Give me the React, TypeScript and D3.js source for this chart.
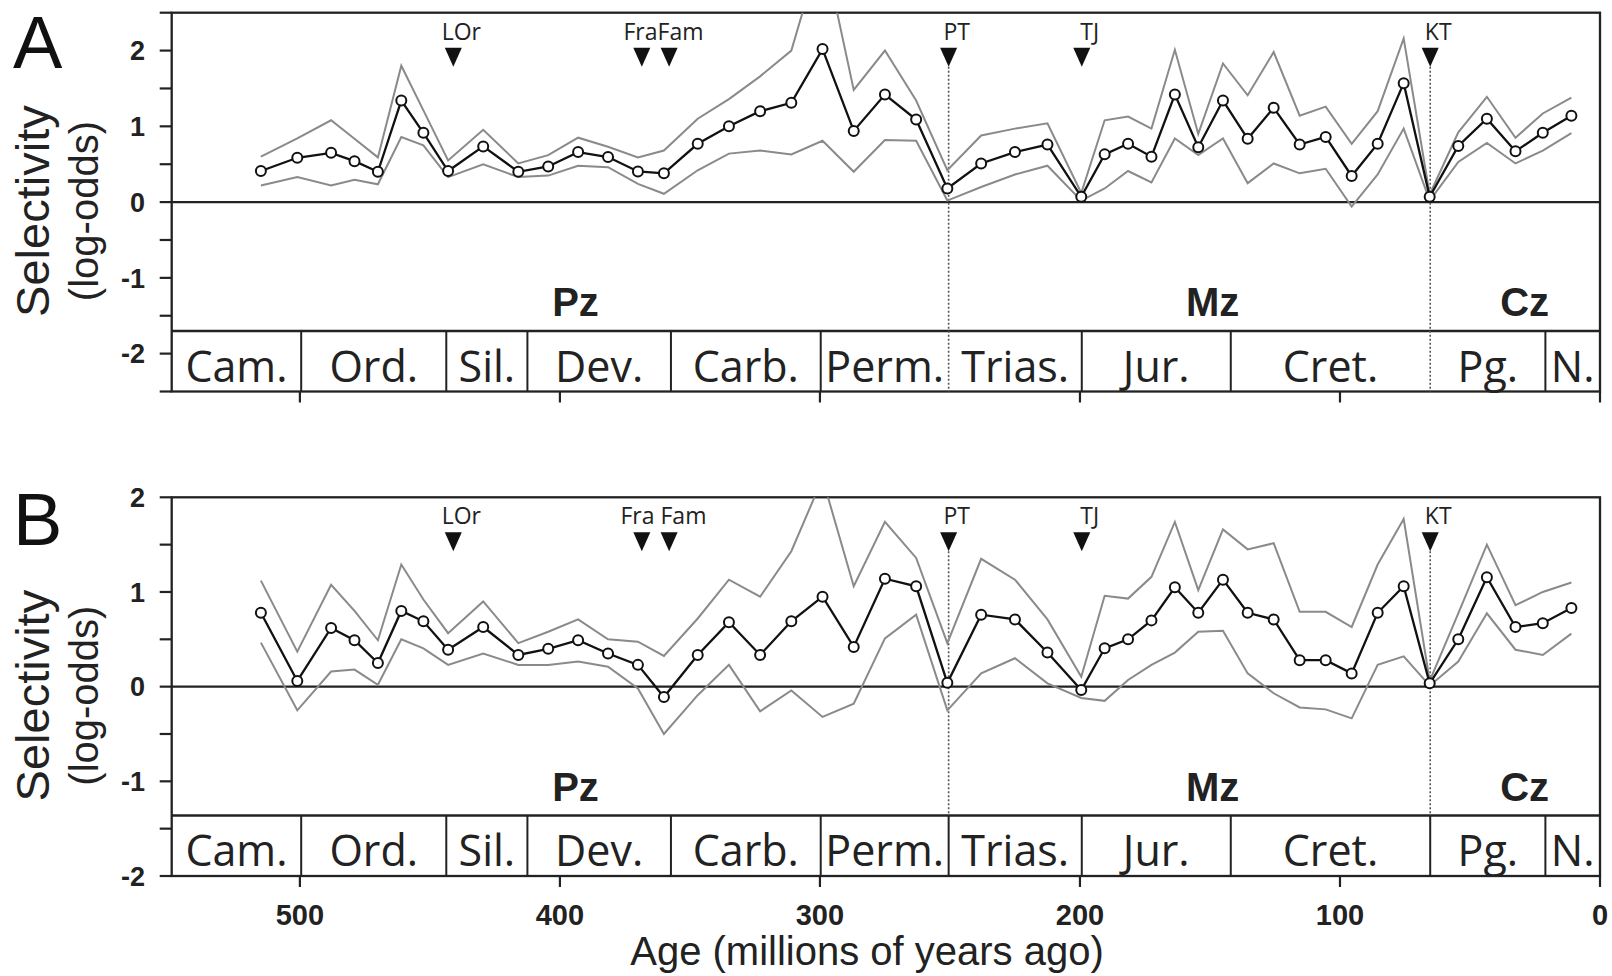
import React from 'react';
import * as d3 from 'd3';

const W = 1612;
const H = 976;

// ---------- data ----------
const ages = [515, 501, 488, 479, 470, 461, 452.5, 443, 429.5, 416, 404.5, 393, 381.5, 370, 360, 347, 335, 323, 311, 299, 287, 275, 263, 251, 238, 225, 212.5, 199.5, 190.5, 181.5, 172.5, 163.5, 154.5, 145, 135.5, 125.5, 115.5, 105.5, 95.5, 85.5, 75.5, 65.5, 54.5, 43.5, 32.5, 22, 11];

const meanA = [0.41, 0.585, 0.65, 0.54, 0.40, 1.34, 0.915, 0.41, 0.735, 0.40, 0.47, 0.66, 0.595, 0.405, 0.38, 0.77, 1.0, 1.20, 1.31, 2.02, 0.94, 1.42, 1.09, 0.18, 0.51, 0.66, 0.76, 0.07, 0.63, 0.77, 0.60, 1.42, 0.725, 1.34, 0.835, 1.245, 0.76, 0.86, 0.345, 0.77, 1.57, 0.07, 0.74, 1.10, 0.67, 0.915, 1.14];
const upperA = [0.60, 0.84, 1.08, 0.835, 0.59, 1.80, 1.21, 0.55, 0.955, 0.51, 0.62, 0.85, 0.73, 0.59, 0.68, 1.10, 1.36, 1.66, 2.0, 3.4, 1.48, 2.0, 1.34, 0.42, 0.88, 0.97, 1.04, 0.12, 1.08, 1.13, 0.97, 2.01, 0.90, 1.83, 1.41, 1.98, 1.14, 1.26, 0.77, 1.20, 2.16, 0.10, 0.92, 1.39, 0.85, 1.17, 1.38];
const lowerA = [0.22, 0.33, 0.22, 0.295, 0.235, 0.86, 0.75, 0.33, 0.50, 0.33, 0.35, 0.48, 0.46, 0.24, 0.11, 0.42, 0.64, 0.68, 0.63, 0.81, 0.40, 0.82, 0.81, 0.02, 0.20, 0.365, 0.48, 0.02, 0.18, 0.41, 0.26, 0.84, 0.62, 0.84, 0.25, 0.51, 0.38, 0.44, -0.06, 0.365, 0.97, 0.02, 0.53, 0.78, 0.51, 0.68, 0.91];

const meanB = [0.78, 0.06, 0.62, 0.49, 0.25, 0.80, 0.69, 0.39, 0.63, 0.335, 0.40, 0.49, 0.35, 0.23, -0.11, 0.335, 0.68, 0.335, 0.69, 0.95, 0.42, 1.14, 1.06, 0.04, 0.76, 0.71, 0.36, -0.035, 0.405, 0.50, 0.70, 1.05, 0.78, 1.13, 0.78, 0.71, 0.28, 0.28, 0.14, 0.78, 1.06, 0.035, 0.50, 1.155, 0.63, 0.67, 0.83];
const upperB = [1.12, 0.37, 1.075, 0.80, 0.49, 1.29, 0.92, 0.565, 0.90, 0.46, 0.58, 0.71, 0.50, 0.475, 0.325, 0.72, 1.13, 0.95, 1.43, 2.2, 1.06, 1.74, 1.36, 0.46, 1.35, 1.13, 0.71, 0.105, 0.96, 0.93, 1.16, 1.74, 1.02, 1.66, 1.45, 1.515, 0.79, 0.79, 0.63, 1.29, 1.77, 0.06, 0.775, 1.50, 0.86, 1.00, 1.10];
const lowerB = [0.465, -0.25, 0.16, 0.18, 0.02, 0.50, 0.405, 0.23, 0.35, 0.23, 0.23, 0.265, 0.21, -0.02, -0.50, -0.09, 0.23, -0.26, -0.04, -0.32, -0.18, 0.51, 0.76, -0.25, 0.14, 0.30, 0.035, -0.12, -0.15, 0.07, 0.23, 0.36, 0.58, 0.59, 0.14, -0.07, -0.22, -0.24, -0.335, 0.23, 0.32, 0.01, 0.265, 0.775, 0.39, 0.335, 0.56];

const periodNames = ['Cam.', 'Ord.', 'Sil.', 'Dev.', 'Carb.', 'Perm.', 'Trias.', 'Jur.', 'Cret.', 'Pg.', 'N.'];
const periodBounds = [549.3, 499.5, 443.7, 412.5, 357.3, 299.7, 250.5, 199.3, 142, 65.3, 21, 0];

const eraNames = ['Pz', 'Mz', 'Cz'];
const eraCenters = [394, 149, 29];

const eventNamesA = ['LOr', 'FraFam', 'PT', 'TJ', 'KT'];
const eventNamesB = ['LOr', 'Fra Fam', 'PT', 'TJ', 'KT'];
const eventAges = [[441], [368.5, 358], [250.5], [199.3], [65.3]];
const dottedEventAges = [250.5, 65.3];

const xTicks = [500, 400, 300, 200, 100, 0];
const xDomain = [549.3, 0];

const yTitle = 'Selectivity';
const ySubTitle = '(log-odds)';
const xTitle = 'Age (millions of years ago)';

// ---------- layout ----------
const X0 = 171.7;
const X1 = 1600;
const BOX_H = 60.5;
const SANS = '"Liberation Sans", Arial, Helvetica, sans-serif';
const HUMAN = '"Open Sans", "Noto Sans", sans-serif';
const FRAME = '#222';
const GREY = '#8a8a8a';

const panels = [
  { letter: 'A', top: 12.7, bottom: 391.5, yDomain: [-2.5, 2.5], letterBase: 68, xLabels: false, dottedToBottom: true, mean: meanA, upper: upperA, lower: lowerA, events: eventNamesA },
  { letter: 'B', top: 497.3, bottom: 876, yDomain: [-2, 2], letterBase: 545, xLabels: true, dottedToBottom: false, mean: meanB, upper: upperB, lower: lowerB, events: eventNamesB },
];

const x = d3.scaleLinear().domain(xDomain).range([X0, X1]);

function Panel({ p, idx }: { p: any; idx: number }) {
  const y = d3.scaleLinear().domain(p.yDomain).range([p.bottom, p.top]);
  const line = d3.line<number>().x((_, i) => x(ages[i])).y((d) => y(d));
  const boxTop = p.bottom - BOX_H;
  const yTicks = d3.range(p.yDomain[0], p.yDomain[1] + 0.01, 0.5);
  const clipId = `clip${idx}`;
  const fmt = (d: number) => (d < 0 ? '-' + Math.abs(d) : String(d));
  const y0 = y(0);
  return (
    <g>
      <defs>
        <clipPath id={clipId}>
          <rect x={X0} y={p.top} width={X1 - X0} height={p.bottom - p.top} />
        </clipPath>
      </defs>
      {/* panel letter */}
      <text x={13} y={p.letterBase} fontFamily={SANS} fontSize={74} fill="#111">{p.letter}</text>
      {/* y titles */}
      <text transform={`translate(49,${y0 + 9}) rotate(-90)`} textAnchor="middle" fontFamily={SANS} fontSize={47} fill="#222">{yTitle}</text>
      <text transform={`translate(98,${y0 + 9}) rotate(-90)`} textAnchor="middle" fontFamily={SANS} fontSize={40} fill="#222">{ySubTitle}</text>

      {/* y ticks */}
      {yTicks.map((t) => (
        <line key={'yt' + t} x1={X0 - 12} x2={X0} y1={y(t)} y2={y(t)} stroke={FRAME} strokeWidth={2.2} />
      ))}
      {yTicks.filter((t) => Math.abs(t - Math.round(t)) < 1e-6).map((t) => (
        <text key={'yl' + t} x={145} y={y(t)} dy="0.36em" textAnchor="end" fontFamily={SANS} fontWeight="bold" fontSize={27} fill="#222">{fmt(t)}</text>
      ))}

      {/* x ticks */}
      {xTicks.map((t) => (
        <line key={'xt' + t} x1={x(t)} x2={x(t)} y1={p.bottom} y2={p.bottom + 11} stroke={FRAME} strokeWidth={2.2} />
      ))}
      {p.xLabels && xTicks.map((t) => (
        <text key={'xl' + t} x={x(t)} y={p.bottom + 49} textAnchor="middle" fontFamily={SANS} fontWeight="bold" fontSize={29} fill="#222">{t}</text>
      ))}

      {/* frame */}
      <rect x={X0} y={p.top} width={X1 - X0} height={p.bottom - p.top} fill="none" stroke={FRAME} strokeWidth={2.3} />
      <line x1={X0} x2={X1} y1={y0} y2={y0} stroke={FRAME} strokeWidth={2.3} />
      <line x1={X0} x2={X1} y1={boxTop} y2={boxTop} stroke={FRAME} strokeWidth={2.3} />

      {/* period boxes */}
      {periodBounds.slice(1, -1).map((b) => {
        if (p.dottedToBottom && dottedEventAges.some((a) => Math.abs(a - b) < 0.01)) return null;
        return <line key={'pb' + b} x1={x(b)} x2={x(b)} y1={boxTop} y2={p.bottom} stroke={FRAME} strokeWidth={2} />;
      })}
      {periodNames.map((n, i) => (
        <text key={'pn' + n} x={(x(periodBounds[i]) + x(periodBounds[i + 1])) / 2} y={p.bottom - 10} textAnchor="middle" fontFamily={HUMAN} fontSize={43} fill="#222">{n}</text>
      ))}

      {/* era labels */}
      {eraNames.map((n, i) => (
        <text key={'era' + n} x={x(eraCenters[i])} y={boxTop - 15} textAnchor="middle" fontFamily={SANS} fontWeight="bold" fontSize={40} fill="#222">{n}</text>
      ))}

      {/* dotted event lines */}
      {dottedEventAges.map((a) => (
        <line key={'dl' + a} x1={x(a)} x2={x(a)} y1={p.top + 54} y2={p.dottedToBottom ? p.bottom : boxTop} stroke="#555" strokeWidth={1.6} strokeDasharray="2,2" />
      ))}

      {/* events */}
      {eventAges.map((arr, i) => {
        const cx = d3.mean(arr.map((a) => x(a))) as number;
        return (
          <g key={'ev' + i}>
            {arr.map((a) => (
              <path key={'tri' + a} d={`M${x(a) - 8.5},${p.top + 35} L${x(a) + 8.5},${p.top + 35} L${x(a)},${p.top + 54} Z`} fill="#111" />
            ))}
            <text x={cx + 8} y={p.top + 27} textAnchor="middle" fontFamily={HUMAN} fontSize={23} fill="#222">{p.events[i]}</text>
          </g>
        );
      })}

      {/* CI lines */}
      <g clipPath={`url(#${clipId})`}>
        <path d={line(p.upper) as string} fill="none" stroke={GREY} strokeWidth={2} />
        <path d={line(p.lower) as string} fill="none" stroke={GREY} strokeWidth={2} />
        <path d={line(p.mean) as string} fill="none" stroke="#111" strokeWidth={2.3} />
      </g>
      {p.mean.map((v: number, i: number) => (
        <circle key={'pt' + i} cx={x(ages[i])} cy={y(v)} r={5} fill="#fff" stroke="#111" strokeWidth={2} />
      ))}
    </g>
  );
}

export default function App() {
  return (
    <svg width={W} height={H} style={{ position: 'absolute', left: 0, top: 0, background: '#fff' }}>
      <rect x={0} y={0} width={W} height={H} fill="#fff" />
      {panels.map((p, i) => (
        <Panel key={p.letter} p={p} idx={i} />
      ))}
      <text x={867} y={965} textAnchor="middle" fontFamily={SANS} fontSize={40} fill="#222">{xTitle}</text>
    </svg>
  );
}
